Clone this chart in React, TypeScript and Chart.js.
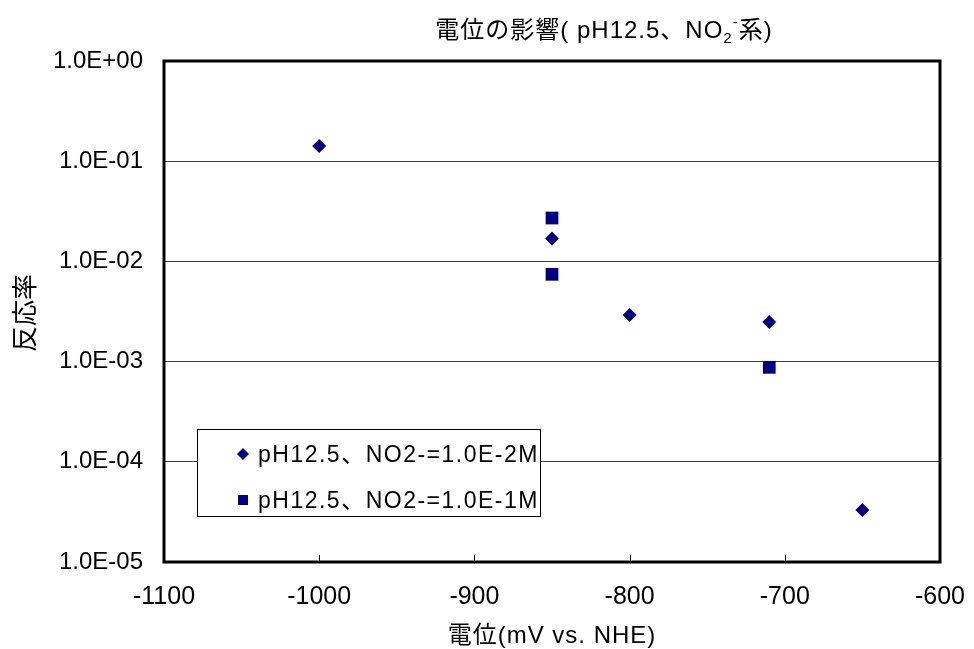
import React, { useEffect, useRef } from "react";
import { Chart, registerables } from "chart.js";

Chart.register(...registerables);

// Data
const seriesNames = ["pH12.5、NO2-=1.0E-2M", "pH12.5、NO2-=1.0E-1M"];
const diamondX = [-1000, -850, -800, -710, -650];
const diamondY = [0.142, 0.0169, 0.00292, 0.00248, 0.000033];
const squareX = [-850, -850, -710];
const squareY = [0.0271, 0.00743, 0.000877];
const yTicks = [1e-5, 1e-4, 1e-3, 1e-2, 1e-1, 1];
const yTickLabels = ["1.0E-05", "1.0E-04", "1.0E-03", "1.0E-02", "1.0E-01", "1.0E+00"];
const xTicks = [-1100, -1000, -900, -800, -700, -600];
const titleParts = ["電位の影響( pH12.5、NO", "2", "-", "系)"];
const xTitle = "電位(mV vs. NHE)";
const yTitle = "反応率";

const FONT = "'Liberation Sans', Arial, 'Noto Sans CJK JP', sans-serif";
const NAVY = "#000080";

const overlayPlugin = {
  id: "overlay",
  afterDraw(chart: any) {
    const ctx = chart.ctx;
    const area = chart.chartArea;
    const xs = chart.scales.x;
    ctx.save();
    // frame
    ctx.strokeStyle = "#000";
    ctx.lineWidth = 3;
    ctx.strokeRect(area.left, area.top, area.right - area.left, area.bottom - area.top);
    // inward x ticks
    ctx.lineWidth = 1;
    xTicks.forEach((v) => {
      const px = Math.round(xs.getPixelForValue(v)) + 0.5;
      ctx.beginPath();
      ctx.moveTo(px, area.bottom);
      ctx.lineTo(px, area.bottom - 7);
      ctx.stroke();
    });
    // title
    ctx.fillStyle = "#000";
    ctx.textBaseline = "alphabetic";
    ctx.textAlign = "left";
    (ctx as any).letterSpacing = "1px";
    const big = `24px ${FONT}`;
    const small = `15px ${FONT}`;
    ctx.font = big;
    const w0 = ctx.measureText(titleParts[0]).width;
    const w3 = ctx.measureText(titleParts[3]).width;
    ctx.font = small;
    const w1 = ctx.measureText(titleParts[1]).width;
    const w2 = ctx.measureText(titleParts[2]).width;
    const total = w0 + w1 + w2 + w3;
    let tx = 604 - total / 2;
    const ty = 38;
    ctx.font = big;
    ctx.fillText(titleParts[0], tx, ty);
    tx += w0;
    ctx.font = small;
    ctx.fillText(titleParts[1], tx, ty + 5);
    tx += w1;
    ctx.fillText(titleParts[2], tx, ty - 11);
    tx += w2;
    ctx.font = big;
    ctx.fillText(titleParts[3], tx, ty);
    // x title
    ctx.font = `24px ${FONT}`;
    ctx.textAlign = "center";
    ctx.fillText(xTitle, 552, 643);
    (ctx as any).letterSpacing = "0px";
    // y title
    ctx.save();
    ctx.translate(34, 313);
    ctx.rotate(-Math.PI / 2);
    ctx.font = `26px ${FONT}`;
    ctx.textAlign = "center";
    ctx.fillText(yTitle, 0, 0);
    ctx.restore();
    // legend
    const lx = 197, ly = 429, lw = 343, lh = 87;
    ctx.fillStyle = "#fff";
    ctx.fillRect(lx, ly, lw, lh);
    ctx.strokeStyle = "#000";
    ctx.lineWidth = 1;
    ctx.strokeRect(lx + 0.5, ly + 0.5, lw, lh);
    const rows = [454, 500];
    ctx.fillStyle = NAVY;
    // diamond
    ctx.beginPath();
    ctx.moveTo(243, rows[0] - 6);
    ctx.lineTo(249, rows[0]);
    ctx.lineTo(243, rows[0] + 6);
    ctx.lineTo(237, rows[0]);
    ctx.closePath();
    ctx.fill();
    // square
    ctx.fillRect(238, rows[1] - 5, 10, 10);
    ctx.fillStyle = "#000";
    ctx.font = `23px ${FONT}`;
    ctx.textAlign = "left";
    ctx.textBaseline = "middle";
    (ctx as any).letterSpacing = "1.5px";
    seriesNames.forEach((n, i) => ctx.fillText(n, 258, rows[i] + 2));
    (ctx as any).letterSpacing = "0px";
    ctx.restore();
  },
};

export default function App() {
  const ref = useRef<HTMLCanvasElement>(null);
  useEffect(() => {
    document.body.style.margin = "0";
    const chart = new Chart(ref.current!, {
      type: "scatter",
      data: {
        datasets: [
          {
            label: seriesNames[0],
            data: diamondX.map((x, i) => ({ x, y: diamondY[i] })),
            pointStyle: "rectRot",
            pointRadius: 7,
            backgroundColor: NAVY,
            borderColor: NAVY,
            borderWidth: 0,
          },
          {
            label: seriesNames[1],
            data: squareX.map((x, i) => ({ x, y: squareY[i] })),
            pointStyle: "rect",
            pointRadius: 9,
            backgroundColor: NAVY,
            borderColor: NAVY,
            borderWidth: 0,
          },
        ],
      },
      options: {
        animation: false,
        responsive: false,
        layout: { padding: { top: 61, right: 34, left: 0, bottom: 0 } },
        plugins: {
          legend: { display: false },
          title: { display: false },
          tooltip: { enabled: false },
        },
        scales: {
          x: {
            type: "linear",
            min: -1100,
            max: -600,
            afterBuildTicks: (s: any) => {
              s.ticks = xTicks.map((v) => ({ value: v }));
            },
            afterFit: (s: any) => {
              s.height = 87;
              s.paddingLeft = 0;
              s.paddingRight = 0;
            },
            grid: { display: false, drawTicks: false },
            border: { display: false },
            ticks: {
              color: "#000",
              font: { family: FONT, size: 25 },
              padding: 20,
              maxRotation: 0,
              callback: (v: any) => String(v),
            },
          },
          y: {
            type: "logarithmic",
            min: 1e-5,
            max: 1,
            afterBuildTicks: (s: any) => {
              s.ticks = yTicks.map((v) => ({ value: v }));
            },
            afterFit: (s: any) => {
              s.width = 164;
              s.paddingTop = 0;
              s.paddingBottom = 0;
            },
            grid: { color: "#404040", lineWidth: 1, drawTicks: false },
            border: { display: false },
            ticks: {
              color: "#000",
              font: { family: FONT, size: 24 },
              padding: 21,
              callback: (v: any) => {
                const i = yTicks.findIndex((t) => Math.abs(Math.log10(t) - Math.log10(v)) < 1e-6);
                return i >= 0 ? yTickLabels[i] : "";
              },
            },
          },
        },
      },
      plugins: [overlayPlugin],
    });
    return () => chart.destroy();
  }, []);
  return (
    <div style={{ position: "absolute", left: 0, top: 0, width: 974, height: 649, background: "#fff" }}>
      <canvas ref={ref} width={974} height={649} style={{ width: 974, height: 649 }} />
    </div>
  );
}
